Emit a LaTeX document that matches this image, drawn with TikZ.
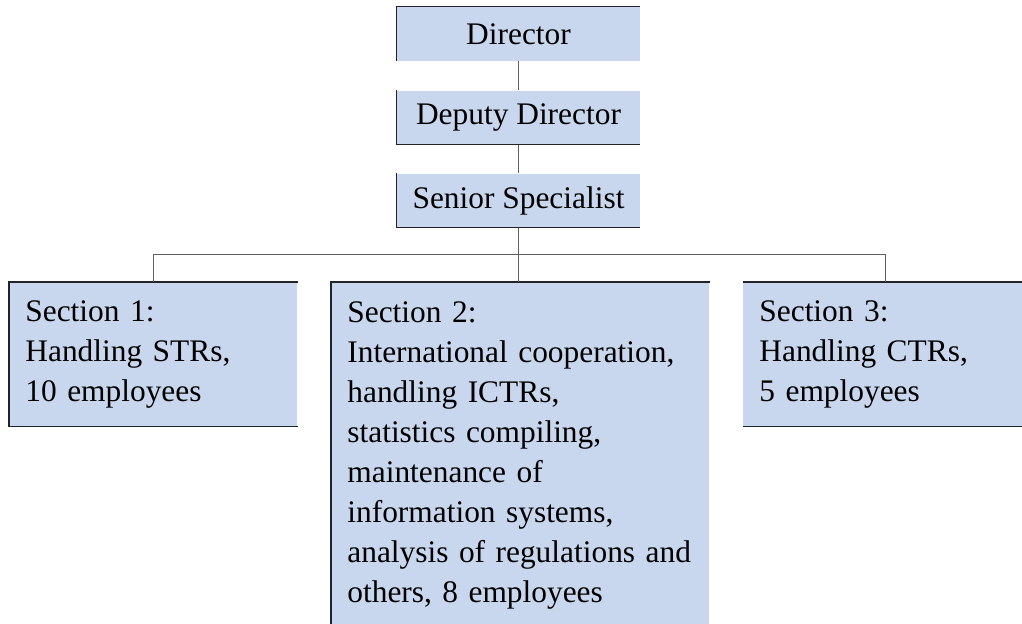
\documentclass[tikz,border=0pt]{standalone}
\usepackage{fontspec}
\setmainfont{Liberation Serif}
\usepackage{tikz}
\usetikzlibrary{calc}
\definecolor{boxblue}{RGB}{201,215,238}
\definecolor{rimcol}{RGB}{34,34,40}
\definecolor{linkcol}{RGB}{95,95,95}
\tikzset{
    unitbox/.style={fill=boxblue, draw=none, inner sep=0pt,
            font=\fontsize{15.7}{20}\selectfont},
    headbox/.style={unitbox, minimum width=121.5pt, minimum height=26.75pt, align=center},
    secbox/.style={unitbox, anchor=north west, inner xsep=8pt, align=left},
    rim/.style={draw=rimcol, line width=0.6pt},
    link/.style={draw=linkcol, line width=0.5pt}
}

\begin{document}
\begin{tikzpicture}[x=0.5pt, y=-0.5pt]
            \useasboundingbox (0, 0) rectangle (1022, 624);
            % top of the chart
            \node[headbox] (dir) at (518.5, 34) {Director};
            \node[headbox] (dep) at (518.5, 117.5) {Deputy Director};
            \node[headbox] (sen) at (518.5, 200.5) {Senior Specialist};
            % the three sections
            \node[secbox, text width=128pt, minimum height=72pt] (sec1) at (9, 282)
                {Section 1:\\Handling STRs,\\10 employees};
            \node[secbox, text width=173pt, minimum height=173.5pt] (sec2) at (331, 282)
                {Section 2:\\International cooperation,\\handling ICTRs,\\statistics compiling,\\maintenance of\\information systems,\\analysis of regulations and\\others, 8 employees};
            \node[secbox, text width=126pt, minimum height=72pt] (sec3) at (743, 282)
                {Section 3:\\Handling CTRs,\\5 employees};
            % box edges
            \draw[rim] (dir.south west) |- (dir.north east);
            \draw[rim] (dep.north west) |- (dep.south east);
            \draw[rim] (sen.north west) |- (sen.south east);
            \draw[rim] (sec1.north east) -| (sec1.south west) -- (sec1.south east);
            \draw[rim] (sec2.south west) |- (sec2.north east);
            \draw[rim] (sec3.north west) -- (sec3.north east);
            \draw[rim] (sec3.south west) -- (sec3.south east);
            % connectors
            \coordinate (bar) at (0, 255);
            \draw[link] (dir.south) -- (dep.north);
            \draw[link] (dep.south) -- (sen.north);
            \draw[link] (sen.south) -- (sen.south |- bar);
            \draw[link] (sec1.north) -- (sec1.north |- bar) -| (sec3.north);
            \draw[link] (sen.south |- bar) -- (sen.south |- sec2.north);
\end{tikzpicture}
\end{document}
